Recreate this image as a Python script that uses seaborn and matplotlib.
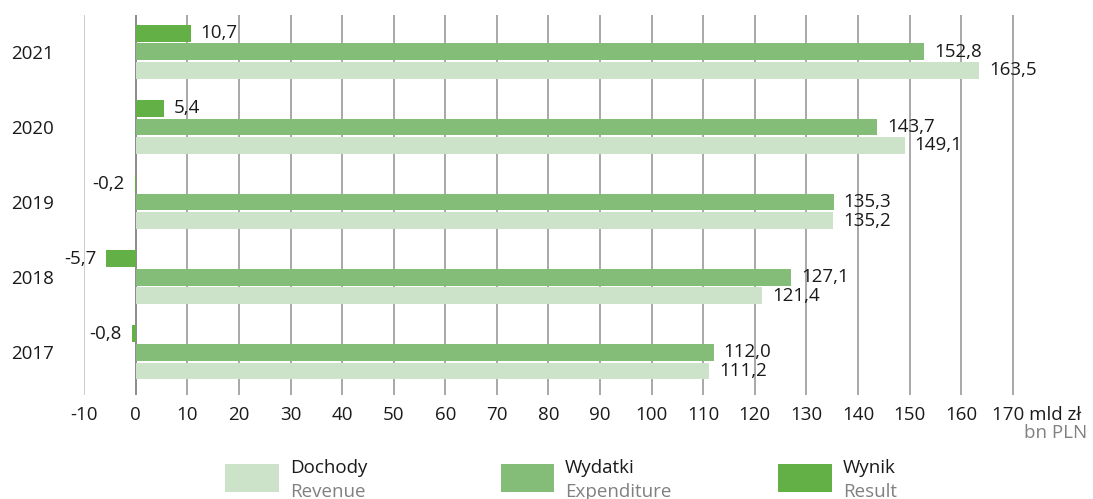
import pandas as pd
import matplotlib.pyplot as plt
import seaborn as sns
from matplotlib.patches import Rectangle
from matplotlib.transforms import blended_transform_factory

years = ['2021', '2020', '2019', '2018', '2017']
dochody = [163.5, 149.1, 135.2, 121.4, 111.2]
wydatki = [152.8, 143.7, 135.3, 127.1, 112.0]
wynik = [10.7, 5.4, -0.2, -5.7, -0.8]

series_pl = ['Wynik', 'Wydatki', 'Dochody']
series_en = {'Dochody': 'Revenue', 'Wydatki': 'Expenditure', 'Wynik': 'Result'}
colors = {'Dochody': '#cce2c9', 'Wydatki': '#84bd78', 'Wynik': '#63b146'}
xticks = list(range(-10, 171, 10))

df = pd.DataFrame({'rok': years * 3,
                   'seria': ['Dochody'] * 5 + ['Wydatki'] * 5 + ['Wynik'] * 5,
                   'wartosc': dochody + wydatki + wynik})

sns.set_style('white')
plt.rcParams['font.family'] = ['Open Sans', 'DejaVu Sans']
plt.rcParams['font.size'] = 13.5

fig = plt.figure(figsize=(10.93, 4.99), dpi=100)
ax = fig.add_axes([0.077, 0.208, 0.852, 0.762])

sns.barplot(ax=ax, data=df, y='rok', x='wartosc', hue='seria', order=years,
            hue_order=series_pl, palette=colors, orient='h',
            width=0.74, gap=0.1, legend=False, errorbar=None, saturation=1,
            linewidth=0)

# value labels
for cont in ax.containers:
    for bar in cont:
        v = bar.get_width()
        txt = f'{v:.1f}'.replace('.', ',')
        yc = bar.get_y() + bar.get_height() / 2
        if v >= 0:
            ax.annotate(txt, (v, yc), xytext=(7, 0), textcoords='offset points',
                        ha='left', va='center', color='#1a1a1a')
        else:
            ax.annotate(txt, (v, yc), xytext=(-7, 0), textcoords='offset points',
                        ha='right', va='center', color='#1a1a1a')

ax.set_xlim(-10, 170.5)
ax.set_ylim(4.57, -0.49)
for x in xticks:
    col = '#c4c4c4' if x == -10 else ('#777777' if x == 0 else '#999999')
    ax.axvline(x, color=col, lw=1.2, zorder=0)

ax.set_xticks(xticks)
ax.set_xticklabels([str(x) for x in xticks[:-1]] + [''])
ax.tick_params(axis='x', length=0, pad=8, labelcolor='#1a1a1a')
ax.tick_params(axis='y', length=0, pad=22, labelcolor='#1a1a1a')
ax.set_xlabel('')
ax.set_ylabel('')
for s in ax.spines.values():
    s.set_visible(False)

trans = blended_transform_factory(ax.transData, ax.transAxes)
ax.annotate('170 mld zł', (170, 0), xycoords=trans, xytext=(-15, -8),
            textcoords='offset points', ha='left', va='top', color='#1a1a1a')
fig.text(0.995, 0.133, 'bn PLN', ha='right', va='center', color='#808080')

# legend
leg_x = [0.206, 0.458, 0.712]
for name, lx in zip(['Dochody', 'Wydatki', 'Wynik'], leg_x):
    fig.add_artist(Rectangle((lx, 0.015), 0.049, 0.056, transform=fig.transFigure,
                             facecolor=colors[name], edgecolor='none'))
    fig.text(lx + 0.059, 0.062, name, ha='left', va='center', color='#1a1a1a')
    fig.text(lx + 0.059, 0.015, series_en[name], ha='left', va='center', color='#808080')

fig.savefig('out.png', dpi=100)
